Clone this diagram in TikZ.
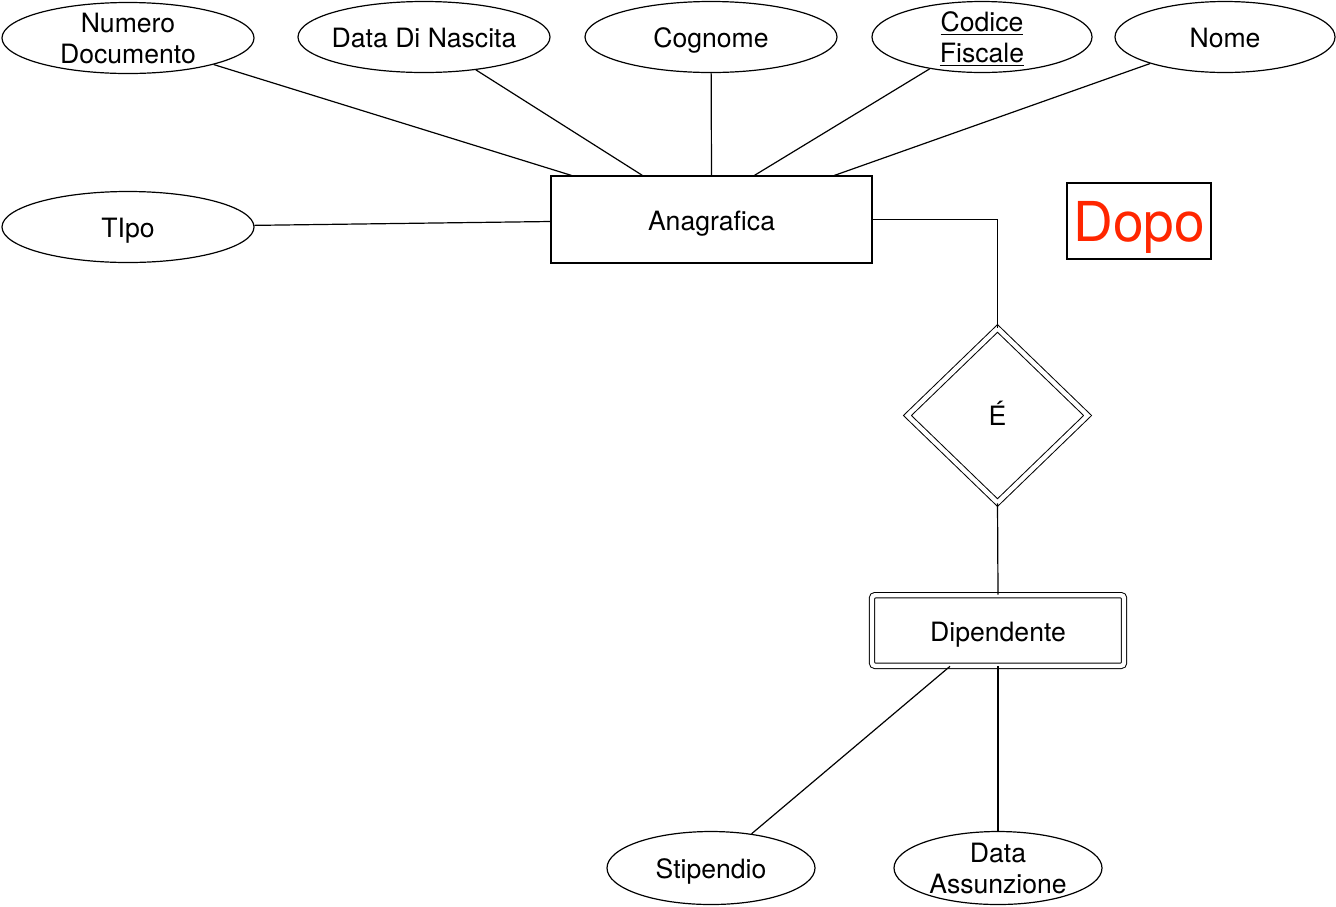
\documentclass[tikz,border=0pt]{standalone}
\usepackage{fontspec}
\setmainfont{TeX Gyre Heros}
\usetikzlibrary{shapes.geometric, calc}
\definecolor{dopored}{HTML}{FF2600}

\begin{document}
\begin{tikzpicture}[
    x=0.5pt, y=-0.5pt,
    every node/.style={font=\fontsize{13.3}{15.5}\selectfont},
    oneline/.style={text height=13pt, text depth=2.5pt},
    attribute/.style={ellipse, draw, line width=0.6pt, inner sep=0pt,
                      minimum width=#1, minimum height=35.5pt, align=center},
    attribute/.default=126pt,
    entity/.style={rectangle, draw, line width=0.6pt, oneline,
                   minimum width=160.5pt, minimum height=43.5pt},
    weakentity/.style={rectangle, draw, line width=0.5pt, double, double distance=2.2pt, oneline,
                       rounded corners=1.5pt, minimum width=126pt, minimum height=35.3pt},
    weakrel/.style={diamond, draw, line width=0.5pt, double, double distance=2.2pt,
                    inner sep=0pt, minimum width=90.3pt, minimum height=87.3pt},
    link/.style={line width=0.6pt}
  ]
    \useasboundingbox (0,0) rectangle (1336,906);
    \node[attribute, inner ysep=-5pt] (numdoc) at (128,38) {Numero\\Documento};
    \node[attribute, oneline, inner xsep=-3pt] (nascita) at (424,37) {Data Di Nascita};
    \node[attribute, oneline] (cognome) at (711,37) {Cognome};
    \node[attribute=110pt, inner ysep=-5pt] (codfisc) at (982,37) {\underline{Codice}\\\smash{\underline{Fiscale}}};
    \node[attribute=110pt, oneline] (nome) at (1225,37) {Nome};
    \node[attribute, oneline] (tipo) at (128,227) {TIpo};
    \node[entity] (ana) at (711.5,219.5) {Anagrafica};
    \node[weakrel, text height=9.5pt] (rel) at (997.5,415.5) {É};
    \node[weakentity] (dip) at (998,630.5) {Dipendente};
    \node[attribute=104pt, minimum height=36.5pt, oneline] (stip) at (711,868) {Stipendio};
    \node[attribute=104pt, minimum height=36.5pt, inner ysep=-5pt] (assunz) at (998,868) {Data\\Assunzione};
    \node[draw, line width=1pt, minimum width=71pt, minimum height=38pt, text=dopored,
          text height=24pt, text depth=3.3pt,
          font=\fontsize{27.5}{30}\selectfont] (dopo) at (1139,221) {Dopo};
    \draw[link] (numdoc) -- ($(ana.north west)+(21,0)$);
    \draw[link] (nascita) -- ($(ana.north west)+(92,0)$);
    \draw[link] (cognome) -- (ana.north);
    \draw[link] (codfisc) -- ($(ana.north west)+(204,0)$);
    \draw[link] (nome) -- ($(ana.north west)+(284,0)$);
    \draw[link] (tipo) -- ($(ana.west)+(0,2)$);
    \draw[link] (ana.east) -| (rel.north);
    \draw[link] (rel.south) -- (dip.north);
    \draw[link] ($(dip.south)+(-48,0)$) -- (stip);
    \draw[link] (dip.south) -- (assunz);
  \end{tikzpicture}
\end{document}
